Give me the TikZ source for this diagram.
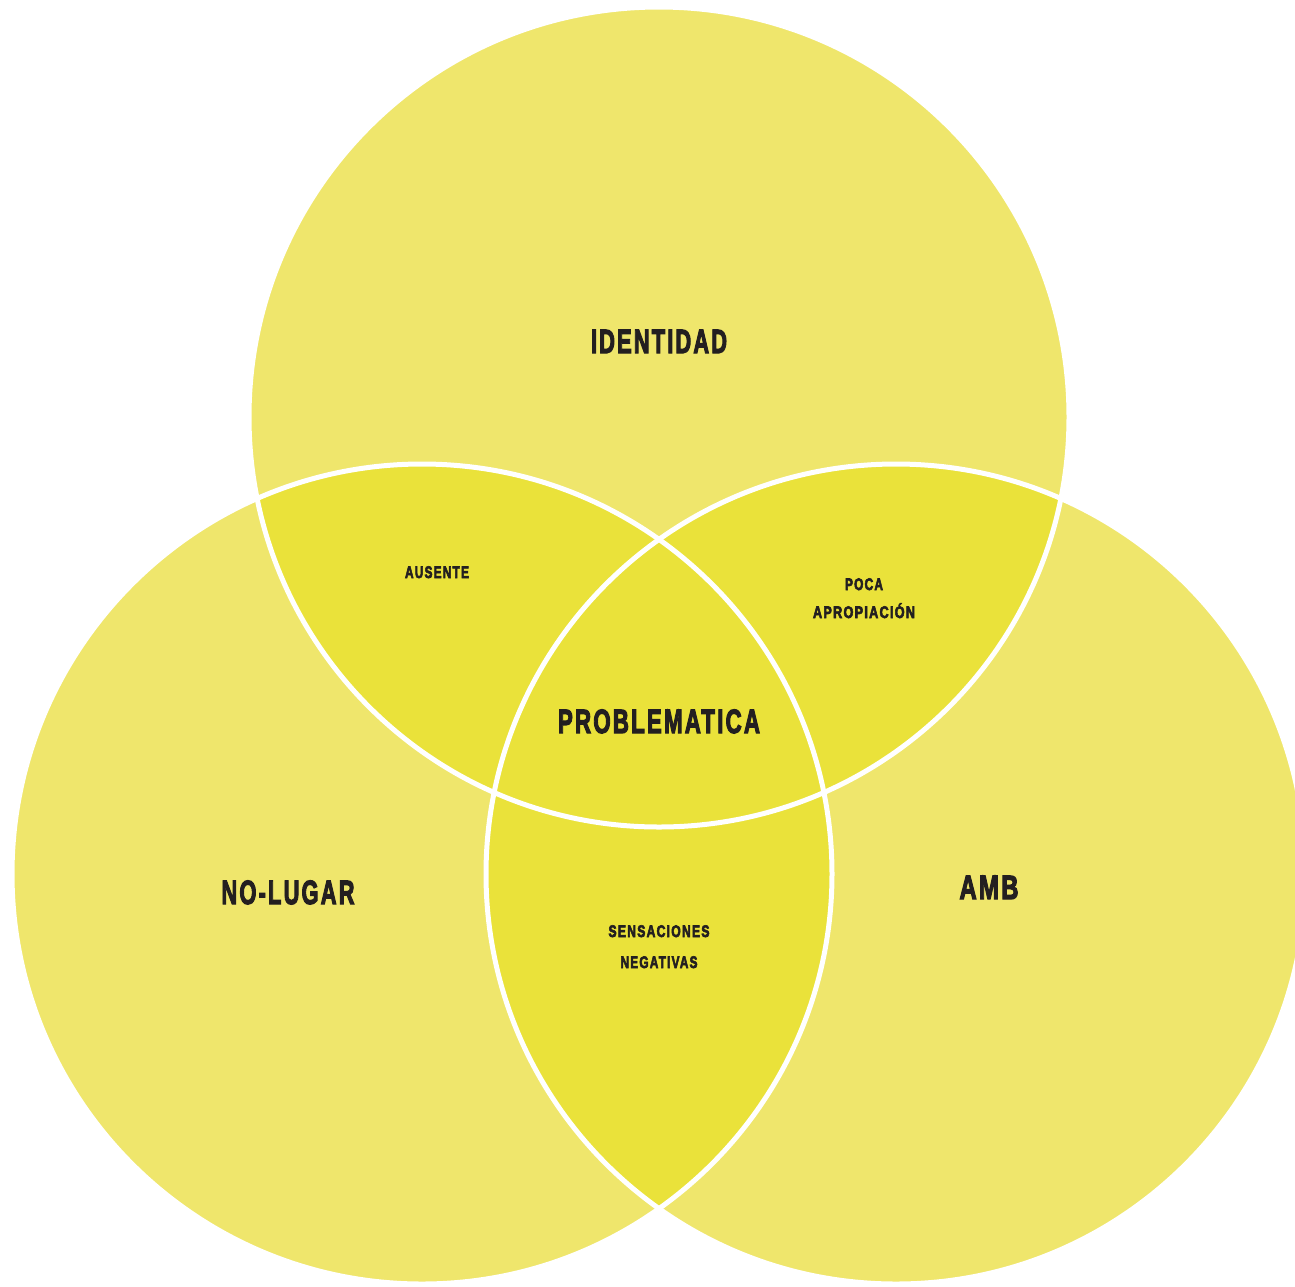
\documentclass[tikz,border=0pt]{standalone}
\usepackage{fontspec}
\usepackage{graphicx}
\setmainfont{Liberation Sans}
\newfontfamily\labelfont[FakeBold=4,LetterSpace=10]{Liberation Sans}
% squeeze a label to a given width, keeping its height
\newcommand{\fw}[2]{\resizebox{#1}{\height}{#2}}
\definecolor{vennlight}{RGB}{239,230,108}
\definecolor{venndeep}{RGB}{234,226,58}
\definecolor{ink}{RGB}{35,31,32}
\begin{document}
\begin{tikzpicture}[x=0.5pt,y=-0.5pt,
  biglabel/.style={anchor=base,inner sep=0pt,text=ink,
    font=\labelfont\bfseries\fontsize{16.8}{18}\selectfont},
  smalllabel/.style={anchor=base,inner sep=0pt,text=ink,
    font=\labelfont\bfseries\fontsize{8.4}{10}\selectfont},
  ring/.style={draw=white,line width=2.5pt}]
\useasboundingbox (0,0) rectangle (1295,1286);
\clip (0,0) rectangle (1295,1286);

% circle centres and radius
\coordinate (ct) at (659,417);
\coordinate (cl) at (422,874);
\coordinate (cr) at (896,874);
\def\R{410}

% single regions
\fill[vennlight] (ct) circle[radius=\R] (cl) circle[radius=\R] (cr) circle[radius=\R];

% overlaps
\begin{scope}
  \clip (ct) circle[radius=\R];
  \fill[venndeep] (cl) circle[radius=\R] (cr) circle[radius=\R];
\end{scope}
\begin{scope}
  \clip (cl) circle[radius=\R];
  \fill[venndeep] (cr) circle[radius=\R];
\end{scope}

% white outlines
\draw[ring] (ct) circle[radius=\R];
\draw[ring] (cl) circle[radius=\R];
\draw[ring] (cr) circle[radius=\R];

% labels
\node[biglabel] (identidad) at (659,353) {\fw{68pt}{IDENTIDAD}};
\node[biglabel] (problematica) at (659,733) {\fw{101pt}{PROBLEMATICA}};
\node[biglabel] (nolugar) at (288,904) {\fw{66.5pt}{NO-LUGAR}};
\node[biglabel] (amb) at (989,899) {\fw{29.5pt}{AMB}};

\node[smalllabel] (ausente) at (437,578) {\fw{32pt}{AUSENTE}};
\node[smalllabel] (poca) at (864,590) {\fw{19pt}{POCA}};
\node[smalllabel] (apropiacion) at (864,618) {\fw{51pt}{APROPIACIÓN}};
\node[smalllabel] (sensaciones) at (659,937) {\fw{50.5pt}{SENSACIONES}};
\node[smalllabel] (negativas) at (659,968) {\fw{38.5pt}{NEGATIVAS}};
\end{tikzpicture}
\end{document}
